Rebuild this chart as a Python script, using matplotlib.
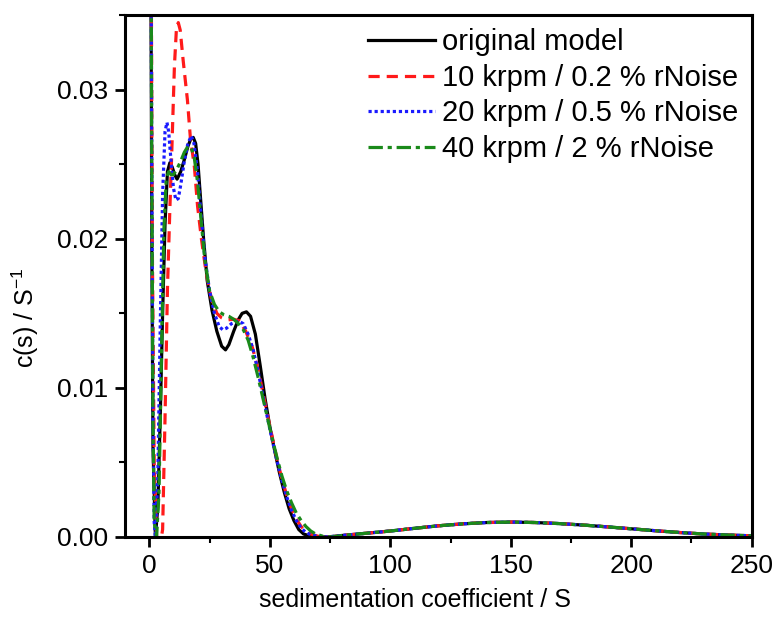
import numpy as np
import matplotlib
matplotlib.use("Agg")
import matplotlib.pyplot as plt
from matplotlib.ticker import MultipleLocator, FormatStrFormatter

plt.rcParams['font.family'] = ['Liberation Sans', 'DejaVu Sans']

# shared broad component (s > 75 S), all four fits overlap there
s_tail = [80, 90, 100, 110, 120, 130, 140, 150, 160, 170, 180, 190, 200, 210, 220, 230, 240, 250]
c_tail = [0.0001, 0.00025, 0.0004, 0.00058, 0.00075, 0.00088, 0.00097, 0.00100, 0.00097, 0.0009,
          0.0008, 0.00068, 0.00055, 0.00042, 0.0003, 0.0002, 0.00013, 0.00008]

s_orig = [0, 0.5, 1.0, 1.5, 2.5, 3.5, 4.5, 5.5, 6.5, 7.5, 8.5, 9.5, 10.5, 11.5, 13, 14.5, 16, 17.2, 18.2,
          19.2, 20.2, 21.2, 22.5, 24, 26, 28, 30, 31.6, 33, 35, 37, 38.5, 40.3, 42, 44, 46, 48, 50, 52,
          54, 56, 58, 60, 62, 64, 66, 68, 72, 75]
c_orig = [0.08, 0.045, 0.02, 0.006, 0.0, 0.002, 0.008, 0.015, 0.021, 0.0245, 0.0251, 0.0248, 0.0243,
          0.0240, 0.0245, 0.0253, 0.0262, 0.0267, 0.0268, 0.0264, 0.0250, 0.0228, 0.0200, 0.0172, 0.0152,
          0.0138, 0.0128, 0.01255, 0.0129, 0.0138, 0.0146, 0.0150, 0.0151, 0.0148, 0.0136, 0.0115, 0.0093,
          0.0074, 0.0058, 0.0043, 0.0030, 0.0019, 0.0011, 0.0005, 0.0002, 0.0001, 0.00003, 0.0, 0.00002]

s_10k = [0, 0.5, 1.2, 2, 3, 5, 5.5, 6.5, 7.5, 8.5, 9.1, 10.4, 11.2, 12, 12.8, 14, 15.8, 17, 18.7, 20,
         21.6, 23.5, 25.7, 28, 30, 32, 35, 37.4, 40, 42.8, 45, 47, 49, 51, 53, 55, 57, 59, 61, 63, 65,
         67, 70, 76]
c_10k = [0.08, 0.05, 0.02, 0.005, 0.0, 0.0, 0.0005, 0.008, 0.0166, 0.022, 0.0248, 0.0316, 0.034, 0.0345,
         0.034, 0.032, 0.0293, 0.0268, 0.0248, 0.0222, 0.0200, 0.0178, 0.0160, 0.0150, 0.0147, 0.01456,
         0.0146, 0.0145, 0.0138, 0.0127, 0.0113, 0.0098, 0.0082, 0.0067, 0.0052, 0.0039, 0.0028, 0.0019,
         0.0012, 0.0007, 0.0004, 0.0002, 0.00005, 0.0]

s_20k = [0, 0.5, 1, 1.5, 2, 2.5, 3.5, 4.5, 5.5, 6.5, 7.3, 8, 9, 10, 11, 12, 13, 14.5, 16, 17.4, 18.5,
         20, 21.5, 23, 25, 27, 29, 30.5, 32, 34, 37, 39, 41, 43, 45, 47, 49, 51, 53, 55, 57, 59, 61,
         63, 65, 67, 70, 74]
c_20k = [0.08, 0.05, 0.025, 0.008, 0.001, 0.0, 0.004, 0.014, 0.023, 0.0272, 0.0278, 0.0272, 0.0252,
         0.0234, 0.0226, 0.0227, 0.0236, 0.0252, 0.0264, 0.0269, 0.0264, 0.0245, 0.0215, 0.0188, 0.0165,
         0.0150, 0.0141, 0.0139, 0.0140, 0.0143, 0.0145, 0.0143, 0.0136, 0.0126, 0.0112, 0.0096, 0.0080,
         0.0065, 0.0051, 0.0038, 0.0027, 0.0018, 0.0011, 0.0006, 0.0003, 0.00015, 0.00005, 0.0]

s_40k = [0, 0.5, 1, 1.5, 2, 3, 4, 5, 6, 7, 8, 9, 10, 11.5, 13, 14.5, 16, 17, 18.5, 20, 21.5, 23, 25,
         27, 29, 31, 33, 35, 37, 39, 41, 43, 45, 47, 49, 51, 53, 55, 57, 59, 61, 63, 65, 67, 69, 72, 76]
c_40k = [0.08, 0.05, 0.025, 0.008, 0.001, 0.0, 0.003, 0.012, 0.0205, 0.0240, 0.0245, 0.0243, 0.0243,
         0.0247, 0.0252, 0.0258, 0.0262, 0.0262, 0.0256, 0.0238, 0.0212, 0.0186, 0.0165, 0.0156, 0.0151,
         0.0149, 0.0148, 0.0146, 0.0143, 0.0139, 0.0132, 0.0121, 0.0108, 0.0094, 0.0080, 0.0066, 0.0053,
         0.0041, 0.0031, 0.0023, 0.0016, 0.0011, 0.0007, 0.0004, 0.0002, 0.00005, 0.0]

labels = ["original model", "10 krpm / 0.2 % rNoise", "20 krpm / 0.5 % rNoise", "40 krpm / 2 % rNoise"]

fig = plt.figure(figsize=(7.83, 6.31), dpi=100)
ax = fig.add_axes([0.160, 0.149, 0.800, 0.827])

ax.plot(s_orig + s_tail, c_orig + c_tail, color="black", lw=2.3, ls="-", label=labels[0])
ax.plot(s_10k + s_tail, c_10k + c_tail, color="#ff1a1a", lw=2.3, ls=(0, (3.5, 2.2)), label=labels[1])
ax.plot(s_20k + s_tail, c_20k + c_tail, color="#1a1aff", lw=2.3, ls=(0, (1, 0.9)), label=labels[2])
ax.plot(s_40k + s_tail, c_40k + c_tail, color="#1a8a1a", lw=2.3, ls=(0, (4.5, 1.5, 1.3, 1.5)), label=labels[3])

ax.set_xlim(-10, 250)
ax.set_ylim(0, 0.035)
ax.set_xticks([0, 50, 100, 150, 200, 250])
ax.set_yticks([0.00, 0.01, 0.02, 0.03])
ax.yaxis.set_major_formatter(FormatStrFormatter("%.2f"))
ax.xaxis.set_minor_locator(MultipleLocator(25))
ax.yaxis.set_minor_locator(MultipleLocator(0.005))
ax.tick_params(which="major", direction="out", length=7, width=2, labelsize=19, pad=5)
ax.tick_params(which="minor", direction="out", length=4, width=1.5)
for sp in ax.spines.values():
    sp.set_linewidth(2.2)

ax.set_xlabel("sedimentation coefficient / S", fontsize=18)
ax.set_ylabel("c(s) / S$^{\\mathregular{-1}}$", fontsize=18)
ax.xaxis.set_label_coords(0.4625, -0.098)
ax.yaxis.set_label_coords(-0.134, 0.42)

ax.legend(loc="upper right", frameon=False, fontsize=21, handlelength=2.3, handletextpad=0.25,
          labelspacing=0.26, borderaxespad=0.25, borderpad=0.2)

fig.savefig("out.png", dpi=100)
